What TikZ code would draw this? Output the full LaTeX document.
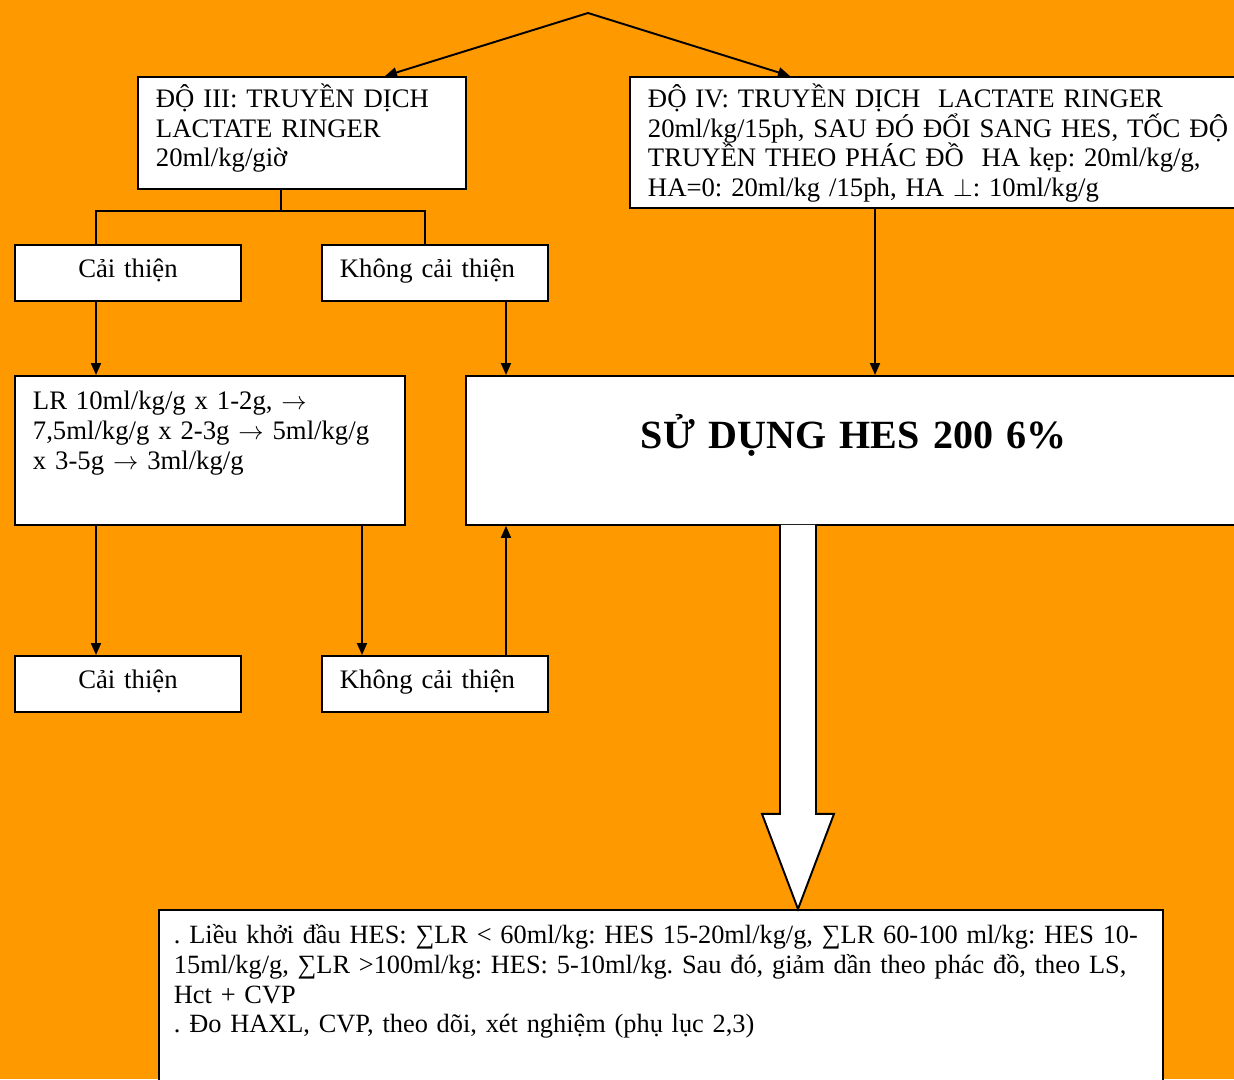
\documentclass[tikz,border=0pt]{standalone}
\usepackage{fontspec}
\setmainfont{Liberation Serif}
\usetikzlibrary{calc, positioning, arrows.meta}
\definecolor{bgorange}{RGB}{255, 153, 0}
\frenchspacing

\begin{document}
\begin{tikzpicture}[x=0.02cm, y=-0.02cm,
		box/.style={shape=rectangle, draw=black, fill=white, line width=1.1pt, anchor=north west, align=left, inner xsep=0.36cm, inner ysep=0pt, font=\fontsize{15.2}{16.8}\selectfont},
		choice/.style={box, text width=3.8cm, text height=0.66cm, text depth=0.46cm},
		arr/.style={line width=1.1pt, -{Triangle[length=0.24cm, width=0.2cm]}},
		link/.style={line width=1.1pt}]
		
		\clip (0,0) rectangle (1234,1079);
		\fill[bgorange] (0,0) rectangle (1234,1079);
		
		% Do III / Do IV
		\node[box, text width=5.84cm, text height=0.62cm, text depth=1.62cm] (do3) at (137,76) {ĐỘ III: TRUYỀN DỊCH\\LACTATE RINGER\\20ml/kg/giờ};
		\node[box, text width=11.7cm, text height=0.62cm, text depth=2.0cm] (do4) at (629,76) {ĐỘ IV: TRUYỀN DỊCH\ \ LACTATE RINGER\\20ml/kg/15ph, SAU ĐÓ ĐỔI SANG HES, TỐC ĐỘ\\TRUYỀN THEO PHÁC ĐỒ\ \ HA kẹp: 20ml/kg/g,\\HA=0: 20ml/kg /15ph, HA $\perp$: 10ml/kg/g};
		
		% Cai thien / Khong cai thien
		\node[choice, align=center] (ct1) at (14,244) {Cải thiện};
		\node[choice] (kct1) at (321,244) {Không cải thiện};
		\node[box, text width=7.08cm, text height=0.68cm, text depth=2.3cm] (lr) at (14,375) {LR 10ml/kg/g x 1-2g, $\rightarrow$\\7,5ml/kg/g x 2-3g $\rightarrow$ 5ml/kg/g\\x 3-5g $\rightarrow$ 3ml/kg/g};
		\node[box, text width=14.8cm, align=center, text height=1.46cm, text depth=1.52cm, font=\fontsize{22.8}{26}\selectfont\bfseries] (hes) at (465,375) {SỬ DỤNG HES 200 6\%};
		\node[choice, align=center] (ct2) at (14,655) {Cải thiện};
		\node[choice] (kct2) at (321,655) {Không cải thiện};
		
		% Lieu HES
		\node[box, text width=19.48cm, inner xsep=0.3cm, text height=0.68cm, text depth=3.14cm, font=\fontsize{15}{16.8}\selectfont] (res) at (158,909) {\mbox{. Liều khởi đầu HES: ∑LR < 60ml/kg: HES 15-20ml/kg/g, ∑LR 60-100 ml/kg: HES 10-}\\\mbox{15ml/kg/g, ∑LR >100ml/kg: HES: 5-10ml/kg. Sau đó, giảm dần theo phác đồ, theo LS,}\\Hct + CVP\\. Đo HAXL, CVP, theo dõi, xét nghiệm (phụ lục 2,3)};
		
		% connectors
		\coordinate (top) at (588,13);
		\draw[arr] (top) -- ($(do3.north west)+(248,0)$);
		\draw[arr] (top) -- ($(do4.north west)+(161,0)$);
		
		\coordinate (split) at ($(do3.south west)+(144,21)$);
		\draw[link] (split |- do3.south) -- (split);
		\draw[link] ($(ct1.north west)+(82,0)$) |- (split) -| ($(kct1.north west)+(104,0)$);
		
		\draw[arr] ($(ct1.south west)+(82,0)$) -- ($(lr.north west)+(82,0)$);
		\draw[arr] ($(kct1.south west)+(185,0)$) -- ($(hes.north west)+(41,0)$);
		\coordinate (do4out) at ($(do4.south west)+(246,0)$);
		\draw[arr] (do4out) -- (do4out |- hes.north);
		\draw[arr] ($(lr.south west)+(82,0)$) -- ($(ct2.north west)+(82,0)$);
		\draw[arr] ($(lr.south west)+(348,0)$) -- ($(kct2.north west)+(41,0)$);
		\draw[arr] ($(kct2.north west)+(185,0)$) -- ($(hes.south west)+(41,0)$);
		
		% big arrow
		\coordinate (bigtop) at ($(hes.south west)+(333,0)$);
		\coordinate (bigtip) at (bigtop |- res.north);
		\draw[line width=1.1pt, fill=white] ($(bigtop)+(-18,-1)$) -- ++(0,289) -- ++(-18,0) -- (bigtip) -- ($(bigtop)+(36,288)$) -- ++(-18,0) -- ($(bigtop)+(18,-1)$);
	\end{tikzpicture}
\end{document}
